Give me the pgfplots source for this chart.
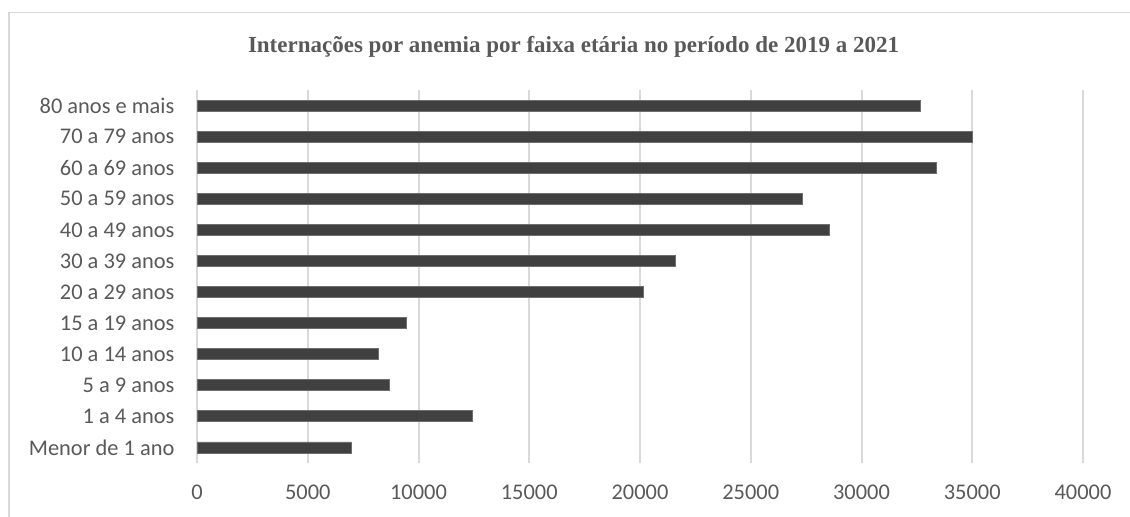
\documentclass[border=0pt]{standalone}
\usepackage{pgfplots}
\pgfplotsset{compat=1.18}
\usepackage{fontspec}
\setmainfont{Carlito}
\newfontfamily\titlefont{Liberation Serif}
\definecolor{barc}{HTML}{404040}
\definecolor{baredge}{HTML}{6E6E6E}
\definecolor{gridc}{HTML}{D9D9D9}
\definecolor{textc}{HTML}{595959}
\begin{document}
\begin{tikzpicture}[x=1bp,y=1bp]
\useasboundingbox (0,0) rectangle (565,258);
\draw[color=gridc, line width=0.8bp] (4.5,-20) -- (4.5,251.8) -- (600,251.8);
\node[font=\titlefont\bfseries\fontsize{11.5bp}{13bp}\selectfont, text=textc] at (286.75,234.5) {Internações por anemia por faixa etária no período de 2019 a 2021};
\begin{axis}[
  at={(98.5bp,26.5bp)}, anchor=south west,
  scale only axis, width=443bp, height=186.5bp,
  xbar, bar width=5.5bp,
  xmin=0, xmax=40000, ymin=-0.5, ymax=11.5,
  xtick={0,5000,...,40000},
  ytick={0,...,11},
  yticklabels={Menor de 1 ano,1 a 4 anos,5 a 9 anos,10 a 14 anos,15 a 19 anos,20 a 29 anos,30 a 39 anos,40 a 49 anos,50 a 59 anos,60 a 69 anos,70 a 79 anos,80 anos e mais},
  xmajorgrids, grid style={color=gridc, line width=1bp},
  axis line style={draw=none},
  major tick length=0pt,
  scaled x ticks=false,
  /pgf/number format/assume math mode=true,
  /pgf/number format/set thousands separator={},
  tick label style={font=\fontsize{11.2bp}{13bp}\selectfont, text=textc},
  xticklabel style={yshift=-7.5bp},
  yticklabel style={xshift=-7.8bp},
]
\addplot[fill=barc, draw=baredge, line width=0.4bp] coordinates {
(6950,0) (12450,1) (8680,2) (8170,3) (9445,4) (20150,5) (21600,6) (28540,7) (27310,8) (33360,9) (35000,10) (32680,11)
};
\end{axis}
\end{tikzpicture}
\end{document}
